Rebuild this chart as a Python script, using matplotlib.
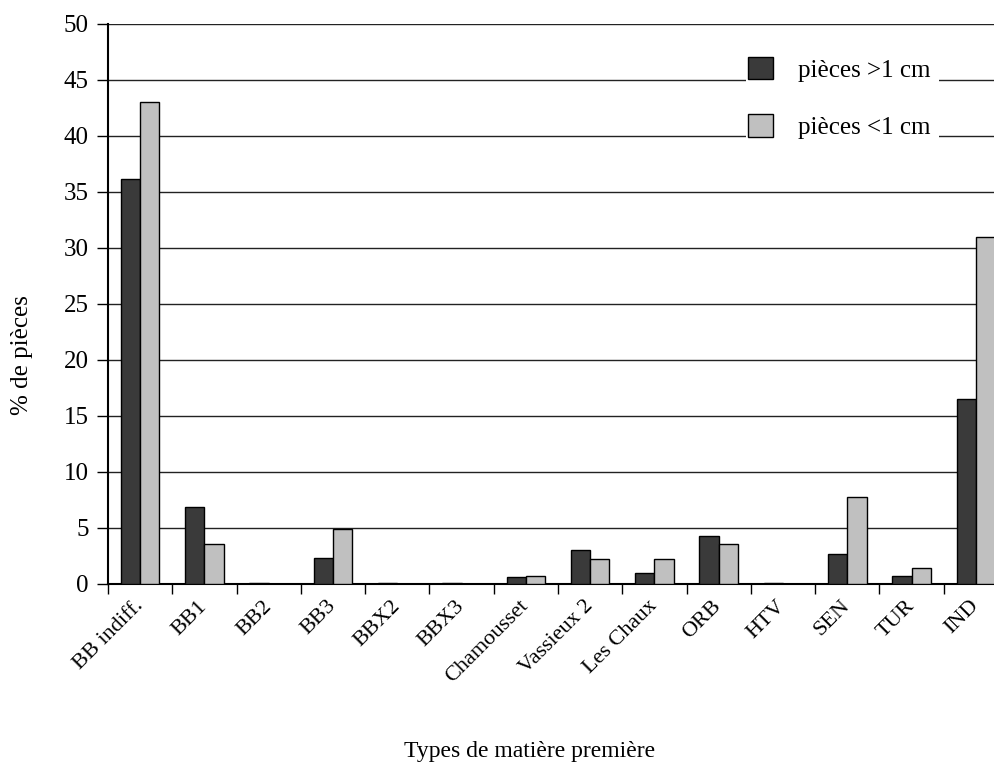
import numpy as np
import matplotlib
matplotlib.use('Agg')
import matplotlib.pyplot as plt
from matplotlib.patches import Patch

plt.rcParams['font.family'] = ['Liberation Serif', 'DejaVu Serif']

# valeurs (% de pièces)
categories = ['BB indiff.', 'BB1', 'BB2', 'BB3', 'BBX2', 'BBX3', 'Chamousset',
              'Vassieux 2', 'Les Chaux', 'ORB', 'HTV', 'SEN', 'TUR', 'IND']
grandes = [36.2, 6.9, 0.1, 2.35, 0.1, 0.1, 0.6, 3.05, 1.0, 4.3, 0.1, 2.7, 0.75, 16.5]
petites = [43.0, 3.6, 0.0, 4.9, 0.0, 0.0, 0.75, 2.2, 2.2, 3.6, 0.0, 7.75, 1.45, 31.0]
labels = ['pièces >1 cm', 'pièces <1 cm']
couleurs = ['#3a3a3a', '#c0c0c0']
yticks = np.arange(0, 55, 5)

W, H = 995, 762
fig = plt.figure(figsize=(W / 100, H / 100), dpi=100)
ax = fig.add_axes([108 / W, 1 - 584 / H, 900 / W, 560 / H])

x = np.arange(len(categories))
w = 0.30
g = np.array(grandes)
p = np.array(petites)
# les valeurs nulles ne sont pas dessinées
ax.bar(x[g > 0] - w / 2, g[g > 0], w, color=couleurs[0], edgecolor='black', linewidth=1.0, zorder=3)
ax.bar(x[p > 0] + w / 2, p[p > 0], w, color=couleurs[1], edgecolor='black', linewidth=1.0, zorder=3)

ax.set_xlim(-0.5, len(categories) - 0.5)
ax.set_ylim(0, 50)
ax.set_yticks(yticks)
ax.set_yticklabels([str(v) for v in yticks], fontsize=18)
ax.yaxis.grid(True, color='#222222', linewidth=1.0, zorder=0)
ax.set_axisbelow(True)

ax.set_xticks(x)
ax.set_xticklabels(categories, rotation=45, ha='right', va='center',
                   rotation_mode='anchor', fontsize=16)
ax.tick_params(axis='x', which='major', length=0, pad=14)
ax.set_xticks(np.arange(-0.5, len(categories), 1.0), minor=True)
ax.tick_params(axis='x', which='minor', length=7, width=1.0, direction='out')
ax.tick_params(axis='y', length=8, width=1.0, direction='out', pad=6)

for s in ['top', 'right']:
    ax.spines[s].set_visible(False)
for s in ['left', 'bottom']:
    ax.spines[s].set_linewidth(1.5)

fig.text(22 / W, 1 - 355 / H, '% de pièces', rotation=90, ha='center', va='center', fontsize=18)
fig.text(530 / W, 1 - 751 / H, 'Types de matière première', ha='center', va='center', fontsize=17)

handles = [Patch(facecolor=c, edgecolor='black', linewidth=1.0) for c in couleurs]
leg = ax.legend(handles, [l + ' ' for l in labels], loc='center',
                bbox_to_anchor=(0.816, 0.868), fontsize=18, frameon=True,
                framealpha=1, facecolor='white', edgecolor='none', fancybox=False,
                handlelength=1.0, handleheight=1.0, handletextpad=1.0,
                labelspacing=1.3, borderpad=0.1, borderaxespad=0)
leg.set_zorder(5)

fig.savefig('out.png', dpi=100, facecolor='white')
